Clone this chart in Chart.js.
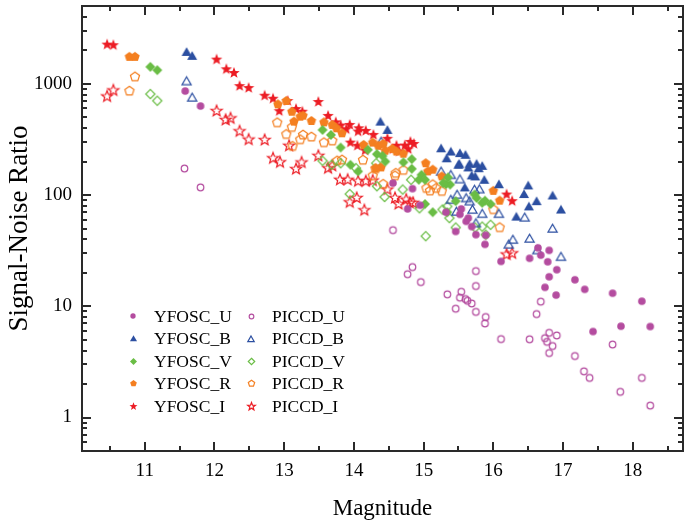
<!DOCTYPE html>
<html>
<head>
<meta charset="utf-8">
<script src="https://cdn.jsdelivr.net/npm/chart.js@4.4.1/dist/chart.umd.min.js"></script>
<style>
  html, body { margin: 0; padding: 0; background: #fff; overflow: hidden; }
  #wrap { width: 684px; height: 521px; overflow: hidden; }
</style>
</head>
<body>
<!-- canvas is a few px wider than the window so the right frame edge sits on the window edge -->
<div id="wrap"><canvas id="snrChart" width="689" height="521"></canvas></div>
<script>
// magnitude / signal-to-noise
const yfoscU_mag = [11.58, 11.80, 14.56, 14.84, 14.77, 14.95, 15.32, 15.54, 15.52, 15.64, 15.61, 15.69, 15.75, 15.46, 15.89, 15.88, 16.64, 16.80, 16.68, 16.52, 16.11, 16.78, 16.91, 16.80, 17.17, 17.31, 16.74, 16.90, 17.71, 18.13, 17.43, 17.83, 18.25];
const yfoscU_snr = [860, 631, 128, 114, 75, 81, 70, 75, 67, 62, 58, 52, 44, 47, 43.5, 36, 33.5, 31.8, 28.8, 27, 25.3, 25.1, 21.3, 18.4, 17.3, 14.2, 14.8, 12.6, 13.1, 11.1, 5.93, 6.62, 6.57];

const yfoscB_mag = [11.60, 11.68, 14.38, 14.48, 15.25, 15.39, 15.33, 15.50, 15.52, 15.60, 15.51, 15.66, 15.76, 15.84, 15.64, 15.79, 15.69, 15.74, 15.87, 15.59, 16.08, 16.50, 16.44, 16.85, 16.62, 16.51, 16.97, 16.33];
const yfoscB_snr = [1934, 1781, 457, 385, 263, 246, 214, 187, 238, 230, 191, 191, 191, 183, 177, 174, 150, 147, 137, 117, 125, 122, 102, 99, 88, 79, 74, 64];

const yfoscV_mag = [11.08, 11.18, 13.55, 13.67, 13.81, 14.20, 14.33, 14.41, 14.45, 13.95, 14.06, 14.71, 14.83, 14.83, 14.97, 14.93, 15.02, 15.32, 15.38, 15.02, 15.13, 15.46, 15.35, 15.28, 15.73, 15.76, 15.84, 15.88, 15.96, 15.34];
const yfoscV_snr = [1420, 1326, 385, 347, 267, 255, 233, 225, 200, 187, 163, 197, 210, 172, 152, 137, 137, 125, 124, 83, 70, 88, 144, 128, 101, 94, 85, 89, 83, 70];

const yfoscR_mag = [10.78, 10.86, 12.91, 13.03, 13.11, 13.14, 13.23, 13.27, 13.39, 13.57, 13.69, 13.75, 13.83, 14.14, 14.27, 14.35, 14.42, 14.45, 14.55, 14.61, 14.71, 14.39, 14.31, 15.13, 15.06, 15.26, 15.03, 16.00, 16.09];
const yfoscR_snr = [1745, 1745, 653, 700, 561, 457, 506, 517, 463, 450, 427, 398, 359, 282, 296, 277, 288, 250, 260, 246, 235, 177, 174, 169, 163, 147, 193, 109, 89];

const yfoscI_mag = [10.46, 10.55, 12.03, 12.17, 12.28, 12.36, 12.49, 12.72, 12.84, 12.93, 13.05, 13.17, 13.26, 13.49, 13.63, 13.74, 13.81, 13.89, 13.94, 14.07, 14.06, 14.17, 14.28, 14.48, 13.95, 14.05, 14.16, 14.61, 14.73, 14.81, 14.86, 14.56, 14.65, 14.78, 16.19, 16.27];
const yfoscI_snr = [2250, 2220, 1650, 1350, 1250, 953, 915, 781, 734, 567, 700, 593, 561, 686, 514, 450, 421, 390, 427, 398, 372, 377, 347, 320, 296, 277, 251, 277, 278, 300, 288, 258, 246, 258, 101, 88];

const piccdU_mag = [11.57, 11.80, 14.56, 14.84, 14.77, 14.96, 15.75, 15.75, 15.34, 15.54, 15.52, 15.60, 15.63, 15.69, 15.46, 15.75, 15.89, 15.88, 16.11, 16.52, 16.62, 16.68, 16.80, 16.91, 16.74, 16.77, 16.85, 16.80, 17.17, 17.71, 17.30, 17.38, 18.13, 17.82, 18.25];
const piccdU_snr = [173, 117, 48.3, 22.5, 19.4, 16.5, 20.7, 15.2, 12.8, 13.5, 11.95, 11.6, 11.2, 10.6, 9.5, 8.9, 8.0, 7.0, 5.07, 5.05, 8.5, 11.0, 5.77, 5.46, 5.17, 4.79, 4.39, 3.80, 3.57, 4.53, 2.60, 2.27, 2.27, 1.70, 1.28];

const piccdB_mag = [11.60, 11.68, 14.39, 15.39, 15.39, 15.48, 15.25, 15.52, 15.73, 15.80, 15.61, 15.66, 15.84, 15.70, 15.47, 16.08, 16.45, 16.85, 15.75, 16.28, 16.22, 16.52, 16.63, 16.97];
const piccdB_snr = [1057, 754, 302, 152, 91, 101, 163, 139, 112, 113, 94, 88, 68, 74, 71, 68, 63, 50, 56, 39.8, 36, 40.7, 32, 27.9];

const piccdV_mag = [11.08, 11.18, 13.55, 13.68, 13.81, 14.03, 14.32, 14.33, 14.44, 14.70, 14.82, 13.94, 14.94, 15.27, 15.37, 15.34, 15.46, 15.96, 15.84, 15.74, 15.89, 15.03];
const piccdV_snr = [809, 704, 203, 187, 193, 174, 193, 120, 96, 112, 137, 102, 76, 74, 62, 79, 51, 54, 52, 51, 44, 42.7];

const piccdR_mag = [10.86, 10.78, 12.90, 13.03, 13.11, 13.23, 13.27, 13.39, 13.57, 13.69, 13.12, 13.76, 13.83, 14.13, 14.27, 14.31, 14.42, 14.59, 14.60, 14.71, 15.04, 15.09, 15.18, 15.26, 15.13, 16.00, 16.09];
const piccdR_snr = [1155, 860, 447, 351, 406, 315, 347, 333, 296, 307, 274, 203, 207, 206, 149, 172, 125, 149, 157, 167, 115, 109, 115, 108, 124, 74, 51];

const piccdI_mag = [10.46, 10.55, 12.03, 12.16, 12.23, 12.36, 12.49, 12.72, 12.84, 12.94, 13.07, 13.17, 13.25, 13.49, 13.63, 13.69, 13.80, 13.91, 14.06, 14.17, 14.27, 14.48, 14.04, 13.94, 14.15, 14.59, 14.64, 14.75, 14.80, 14.85, 16.19, 16.27];
const piccdI_snr = [769, 871, 569, 473, 489, 374, 315, 312, 214, 197, 277, 171, 196, 225, 174, 183, 137, 137, 133, 133, 135, 112, 94, 86, 73, 94, 83, 91, 85, 85, 29.2, 29.9];

const xTicks = [11, 12, 13, 14, 15, 16, 17, 18];
const yTicks = [1, 10, 100, 1000];

const PURPLE = '#b44c9f', BLUE = '#2c4fa1', GREEN = '#6abd45', ORANGE = '#f47f20', RED = '#ec1c24';
const SERIF = "'Liberation Serif', 'Times New Roman', serif";

// marker sprites (pentagon / 5-point star aren't built into chart.js)
function marker(shape, color, filled, r) {
  const s = Math.ceil(r * 2 + 4);
  const c = document.createElement('canvas');
  c.width = c.height = s;
  const g = c.getContext('2d');
  g.translate(s / 2, s / 2);
  g.beginPath();
  if (shape === 'circle') {
    g.arc(0, 0, r, 0, Math.PI * 2);
  } else {
    const n = {triangle: 3, diamond: 4, pentagon: 5, star: 10}[shape];
    for (let i = 0; i < n; i++) {
      const a = -Math.PI / 2 + i * 2 * Math.PI / n;
      const rr = shape === 'star' && i % 2 ? r * 0.42 : r;
      const yOff = shape === 'triangle' ? r * 0.2 : 0;
      g.lineTo(Math.cos(a) * rr, Math.sin(a) * rr + yOff);
    }
    g.closePath();
  }
  if (filled) { g.fillStyle = color; g.fill(); }
  else { g.strokeStyle = color; g.lineWidth = 1.2; g.stroke(); }
  return c;
}

const series = [
  {label: 'YFOSC_U', mag: yfoscU_mag, snr: yfoscU_snr, color: PURPLE, shape: 'circle', filled: true, r: 3.8},
  {label: 'YFOSC_B', mag: yfoscB_mag, snr: yfoscB_snr, color: BLUE, shape: 'triangle', filled: true, r: 5.8},
  {label: 'YFOSC_V', mag: yfoscV_mag, snr: yfoscV_snr, color: GREEN, shape: 'diamond', filled: true, r: 5},
  {label: 'YFOSC_R', mag: yfoscR_mag, snr: yfoscR_snr, color: ORANGE, shape: 'pentagon', filled: true, r: 5},
  {label: 'YFOSC_I', mag: yfoscI_mag, snr: yfoscI_snr, color: RED, shape: 'star', filled: true, r: 6},
  {label: 'PICCD_U', mag: piccdU_mag, snr: piccdU_snr, color: PURPLE, shape: 'circle', filled: false, r: 3.3},
  {label: 'PICCD_B', mag: piccdB_mag, snr: piccdB_snr, color: BLUE, shape: 'triangle', filled: false, r: 5.3},
  {label: 'PICCD_V', mag: piccdV_mag, snr: piccdV_snr, color: GREEN, shape: 'diamond', filled: false, r: 4.6},
  {label: 'PICCD_R', mag: piccdR_mag, snr: piccdR_snr, color: ORANGE, shape: 'pentagon', filled: false, r: 4.8},
  {label: 'PICCD_I', mag: piccdI_mag, snr: piccdI_snr, color: RED, shape: 'star', filled: false, r: 5.8}
];

series.forEach(s => {
  s.sprite = marker(s.shape, s.color, s.filled, s.r);
  s.small = marker(s.shape, s.color, s.filled, s.r * 0.7);
});

// closed frame + inward ticks on all four sides
const frameTicks = {
  id: 'frameTicks',
  beforeDatasetsDraw(chart) {
    const {ctx, chartArea: a, scales: {x, y}} = chart;
    ctx.save();
    ctx.strokeStyle = '#2a2a2a';
    ctx.lineWidth = 2;
    ctx.strokeRect(a.left, a.top, a.right - a.left, a.bottom - a.top);
    ctx.beginPath();
    for (let v = 10.5; v < x.max; v += 0.5) {
      const px = Math.round(x.getPixelForValue(v));
      const len = Number.isInteger(v) ? 9 : 5;
      ctx.moveTo(px, a.bottom); ctx.lineTo(px, a.bottom - len);
      ctx.moveTo(px, a.top); ctx.lineTo(px, a.top + len);
    }
    for (let e = -1; e <= 3; e++) {
      for (let k = 1; k <= 9; k++) {
        const v = k * Math.pow(10, e);
        if (v <= y.min || v >= y.max) continue;
        const py = Math.round(y.getPixelForValue(v));
        const len = k === 1 ? 9 : 5;
        ctx.moveTo(a.left, py); ctx.lineTo(a.left + len, py);
        ctx.moveTo(a.right, py); ctx.lineTo(a.right - len, py);
      }
    }
    ctx.stroke();
    ctx.restore();
  },
  afterDraw(chart) {
    // legend inside the plot, two columns
    const {ctx, chartArea: a} = chart;
    ctx.save();
    ctx.font = '17.5px ' + SERIF;
    ctx.fillStyle = '#000';
    ctx.textBaseline = 'middle';
    series.forEach((s, i) => {
      const col = i < 5 ? 0 : 1;
      const row = i % 5;
      const cy = a.top + 310 + row * 22.5;
      const mx = a.left + 51 + col * 118;
      ctx.drawImage(s.small, Math.round(mx - s.small.width / 2), Math.round(cy - s.small.height / 2));
      ctx.fillText(s.label, mx + 21, cy + 1);
    });
    ctx.restore();
  }
};

function noEdgePadding(sc) {
  sc.paddingTop = 0; sc.paddingBottom = 0;
  sc.paddingLeft = 0; sc.paddingRight = 0;
}

new Chart(document.getElementById('snrChart'), {
  type: 'scatter',
  data: {
    datasets: series.map(s => ({
      label: s.label,
      data: s.mag.map((m, i) => ({x: m, y: s.snr[i]})),
      pointStyle: s.sprite,
      pointRadius: 5,
      pointHoverRadius: 5,
      showLine: false
    }))
  },
  options: {
    responsive: false,
    animation: false,
    layout: {padding: {top: 3, right: 0, left: 0, bottom: 0}},
    plugins: {
      legend: {display: false},
      tooltip: {enabled: false}
    },
    scales: {
      x: {
        type: 'linear',
        min: 10.1,
        max: 18.72,
        grid: {display: false, drawTicks: false},
        border: {display: false},
        afterBuildTicks: sc => { sc.ticks = xTicks.map(v => ({value: v})); },
        afterFit: sc => { sc.height = 70; noEdgePadding(sc); },
        ticks: {
          padding: 9,
          color: '#000',
          font: {family: SERIF, size: 19},
          callback: v => String(v)
        },
        title: {
          display: true,
          text: 'Magnitude',
          color: '#000',
          font: {family: SERIF, size: 23},
          padding: {top: 0, bottom: -2}
        }
      },
      y: {
        type: 'logarithmic',
        min: 0.5,
        max: 5000,
        grid: {display: false, drawTicks: false},
        border: {display: false},
        afterBuildTicks: sc => { sc.ticks = yTicks.map(v => ({value: v})); },
        afterFit: sc => { sc.width = 82; noEdgePadding(sc); },
        ticks: {
          padding: 10,
          color: '#000',
          font: {family: SERIF, size: 19},
          callback: v => String(v)
        },
        title: {
          display: true,
          text: 'Signal-Noise Ratio',
          color: '#000',
          font: {family: SERIF, size: 27},
          padding: {top: 4, bottom: 0}
        }
      }
    }
  },
  plugins: [frameTicks]
});
</script>
</body>
</html>
